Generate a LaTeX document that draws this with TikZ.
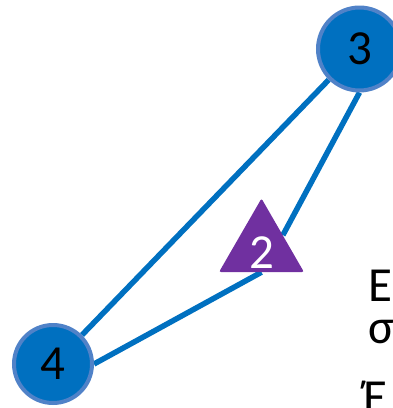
\documentclass[tikz,border=0pt]{standalone}
\usepackage{fontspec}
\setmainfont{Carlito}
\usetikzlibrary{shapes.geometric,backgrounds}
\definecolor{nodeblue}{RGB}{0,112,192}
\definecolor{rimblue}{RGB}{80,130,200}
\definecolor{tripurple}{RGB}{112,48,160}
\tikzset{
  bigtext/.style={font=\fontsize{49}{42}\selectfont},
  vertex/.style={circle,fill=nodeblue,draw=rimblue,line width=4pt,inner sep=0pt,bigtext,text=black},
  trinode/.style={regular polygon,regular polygon sides=3,fill=tripurple,minimum size=98pt,inner sep=0pt,rounded corners=2pt},
  trilabel/.style={bigtext,text=white,inner sep=0pt},
  edge/.style={draw=nodeblue,line width=5.5pt},
  sidetext/.style={bigtext,text=black,anchor=base west,inner sep=0pt,align=left}
}
\begin{document}
\begin{tikzpicture}[x=1pt,y=-1pt]
\useasboundingbox (0,0) rectangle (393,408);
\clip (0,0) rectangle (393,408);
\node[vertex,minimum size=83pt] (n3) at (359.5,49) {3};
\node[vertex,minimum size=78pt] (n4) at (53,364) {4};
\node[trinode] (t2) at (261.5,247.5) {};
\node[trilabel] (t2text) at (261.5,252.5) {2};
\begin{pgfonlayer}{background}
\draw[edge] (n3.south west) -- (n4.north east);
\draw[edge] (n3.south) -- (t2.side 3);
\draw[edge] (t2.side 2) -- (n4.east);
\end{pgfonlayer}
\node[sidetext] (side) at (368,413) {Ε\\σ\\[28pt]\hspace*{-5pt}Έ};
\end{tikzpicture}
\end{document}
